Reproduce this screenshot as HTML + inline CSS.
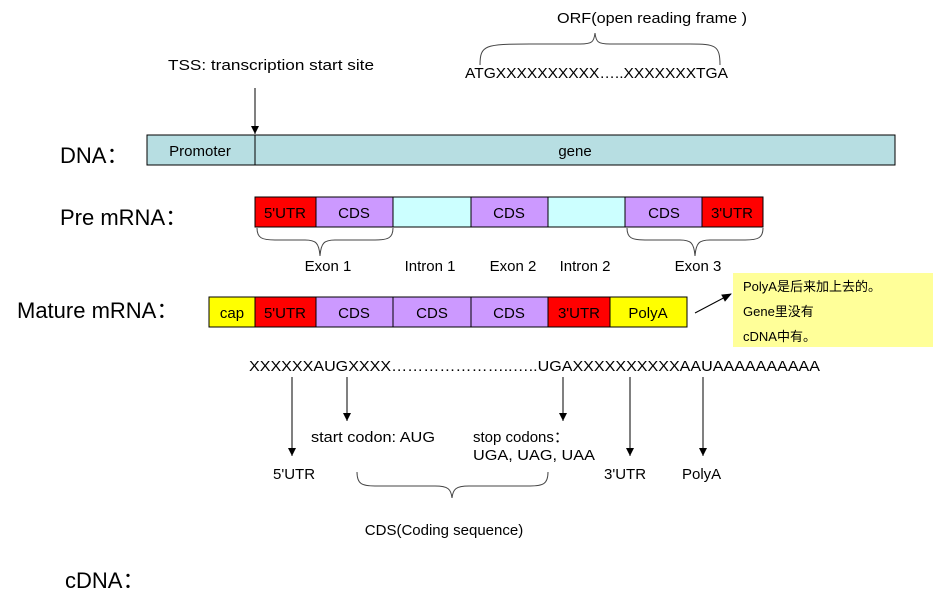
<!DOCTYPE html>
<html><head><meta charset="utf-8"><style>
body{margin:0;background:#fff;}
svg{display:block;font-family:"Liberation Sans","Noto Sans CJK SC",sans-serif;}
</style></head><body>
<svg width="941" height="596" viewBox="0 0 941 596">
<defs>
<marker id="b" markerWidth="10" markerHeight="8" refX="9" refY="4" orient="auto" markerUnits="userSpaceOnUse"><path d="M0,0 L10,4 L0,8 z" fill="#000"/></marker>
<marker id="a" markerWidth="8" markerHeight="8" refX="8" refY="4" orient="auto" markerUnits="userSpaceOnUse"><path d="M0,0 L8,4 L0,8 z" fill="#000"/></marker></defs>
<g font-size="15" fill="#000">
<text x="557" y="23" textLength="190" lengthAdjust="spacingAndGlyphs">ORF(open reading frame )</text>
<path d="M480,65 C480,45 485,44 530,44 L580,44 C592,44 594,42 595,33 C596,42 598,44 610,44 L690,44 C715,44 720,45 720,65" fill="none" stroke="#444" stroke-width="1"/>
<text x="465" y="78" textLength="263" lengthAdjust="spacingAndGlyphs">ATGXXXXXXXXXX…..XXXXXXXTGA</text>
<text x="168" y="70" textLength="206" lengthAdjust="spacingAndGlyphs">TSS: transcription start site</text>
<line x1="255" y1="88" x2="255" y2="134" stroke="#000" marker-end="url(#a)"/>
</g>
<g font-size="22"><text x="60" y="163">DNA：</text><text x="60" y="225">Pre mRNA：</text><text x="17" y="318">Mature mRNA：</text><text x="65" y="588">cDNA：</text></g>
<g stroke="#000" stroke-width="1">
<rect x="147" y="135" width="748" height="30" fill="#b7dee2"/>
<line x1="255" y1="135" x2="255" y2="165"/>
<rect x="255" y="197" width="61" height="30" fill="#ff0000"/>
<rect x="316" y="197" width="77" height="30" fill="#cc99ff"/>
<rect x="393" y="197" width="78" height="30" fill="#ccffff"/>
<rect x="471" y="197" width="77" height="30" fill="#cc99ff"/>
<rect x="548" y="197" width="77" height="30" fill="#ccffff"/>
<rect x="625" y="197" width="77" height="30" fill="#cc99ff"/>
<rect x="702" y="197" width="61" height="30" fill="#ff0000"/>
<rect x="209" y="297" width="46" height="30" fill="#ffff00"/>
<rect x="255" y="297" width="61" height="30" fill="#ff0000"/>
<rect x="316" y="297" width="77" height="30" fill="#cc99ff"/>
<rect x="393" y="297" width="78" height="30" fill="#cc99ff"/>
<rect x="471" y="297" width="77" height="30" fill="#cc99ff"/>
<rect x="548" y="297" width="62" height="30" fill="#ff0000"/>
<rect x="610" y="297" width="77" height="30" fill="#ffff00"/>
</g>
<rect x="733" y="273" width="200" height="74" fill="#ffff99"/>
<g font-size="15" text-anchor="middle">
<text x="200" y="156">Promoter</text><text x="575" y="156">gene</text>
<text x="285" y="218">5'UTR</text><text x="354" y="218">CDS</text><text x="509" y="218">CDS</text><text x="664" y="218">CDS</text><text x="732" y="218">3'UTR</text>
<text x="328" y="271">Exon 1</text><text x="430" y="271">Intron 1</text><text x="513" y="271">Exon 2</text><text x="585" y="271">Intron 2</text><text x="698" y="271">Exon 3</text>
<text x="232" y="318">cap</text><text x="285" y="318">5'UTR</text><text x="354" y="318">CDS</text><text x="432" y="318">CDS</text><text x="509" y="318">CDS</text><text x="579" y="318">3'UTR</text><text x="648" y="318">PolyA</text>
<text x="444" y="535">CDS(Coding sequence)</text>
</g>
<g fill="none" stroke="#444" stroke-width="1">
<path d="M257,228 C257,238 262,240 275,240 L305,240 C316,240 319,243 320,256 C321,243 324,240 335,240 L375,240 C388,240 393,238 393,228"/>
<path d="M627,228 C627,238 632,240 645,240 L680,240 C691,240 694,243 695,256 C696,243 699,240 710,240 L745,240 C758,240 763,238 763,228"/>
<path d="M357,472 C357,484 362,486 375,486 L435,486 C448,486 451,489 452,498 C453,489 456,486 469,486 L530,486 C543,486 548,484 548,472"/>
</g>
<line x1="695" y1="313" x2="731" y2="294" stroke="#000" marker-end="url(#b)"/>
<g font-size="13"><text x="743" y="291">PolyA是后来加上去的。</text><text x="743" y="316">Gene里没有</text><text x="743" y="341">cDNA中有。</text></g>
<g font-size="15">
<text x="249" y="371" textLength="571" lengthAdjust="spacingAndGlyphs">XXXXXXAUGXXXX…………………..…..UGAXXXXXXXXXXAAUAAAAAAAAAA</text>
<text x="311" y="442" textLength="124" lengthAdjust="spacingAndGlyphs">start codon: AUG</text>
<text x="473" y="442">stop codons：</text><text x="473" y="460" textLength="122" lengthAdjust="spacingAndGlyphs">UGA, UAG, UAA</text>
<text x="273" y="479">5'UTR</text><text x="604" y="479">3'UTR</text><text x="682" y="479">PolyA</text>
</g>
<g stroke="#000">
<line x1="292" y1="377" x2="292" y2="456" marker-end="url(#a)"/>
<line x1="347" y1="377" x2="347" y2="421" marker-end="url(#a)"/>
<line x1="563" y1="377" x2="563" y2="421" marker-end="url(#a)"/>
<line x1="630" y1="377" x2="630" y2="456" marker-end="url(#a)"/>
<line x1="703" y1="377" x2="703" y2="456" marker-end="url(#a)"/>
</g>
</svg>
</body></html>
